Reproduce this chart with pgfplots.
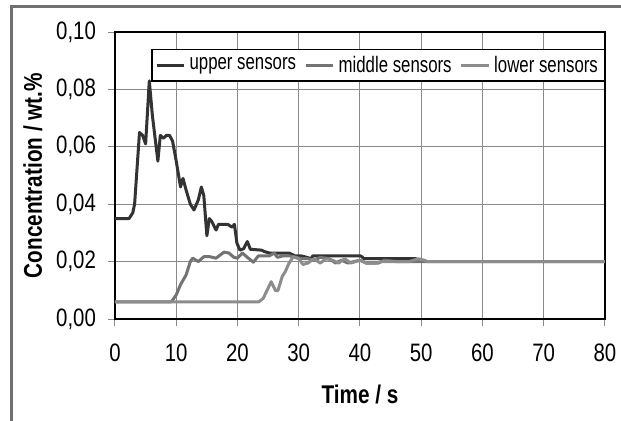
\documentclass[border=0pt]{standalone}
\usepackage{fontspec}
\setmainfont{Liberation Sans}[FakeStretch=0.81]
\newfontfamily\legendfont{Liberation Sans}[FakeStretch=0.75]
\usepackage{pgfplots}
\pgfplotsset{compat=1.18}

\definecolor{upperc}{HTML}{333333}
\definecolor{middlec}{HTML}{737373}
\definecolor{lowerc}{HTML}{8C8C8C}
\definecolor{gridc}{HTML}{8A8A8A}
\definecolor{framec}{HTML}{707070}

\begin{document}
\begin{tikzpicture}
% picture size in px (0.5pt each), axis sits at the origin
\useasboundingbox (-57.5pt,-50.5pt) rectangle (253pt,159.5pt);
\begin{axis}[
    at={(0,0)}, anchor=south west,
    scale only axis,
    width=245pt, height=143.5pt,
    xmin=0, xmax=80, ymin=0, ymax=0.1,
    xtick={0,10,...,80},
    ytick={0,0.02,...,0.1},
    xtick pos=bottom, ytick pos=left,
    tick align=outside,
    major tick length=3.5pt,
    major tick style={gridc, line width=0.5pt},
    grid=major,
    major grid style={gridc, line width=0.5pt},
    axis line style={black, line width=0.6pt},
    scaled y ticks=false,
    y tick label style={/pgf/number format/.cd, use comma, fixed, fixed zerofill, precision=2, assume math mode=true, /tikz/.cd},
    x tick label style={/pgf/number format/assume math mode=true},
    tick label style={font=\fontsize{12.6}{15}\selectfont},
    xticklabel style={yshift=-5.5pt},
    yticklabel style={xshift=-2.5pt},
    xlabel={\textbf{Time / s}},
    ylabel={\textbf{Concentration / wt.\%}},
    label style={font=\fontsize{12.8}{15}\selectfont},
    xlabel style={at={(axis description cs:0.5,-0.294)}, anchor=base},
    ylabel style={at={(axis description cs:-0.149,0.5)}, anchor=base},
    legend style={at={(rel axis cs:1.001,0.94)}, anchor=north east,
        draw=black, line width=0.6pt, font=\legendfont\fontsize{11.2}{13}\selectfont,
        inner xsep=1.5pt, inner ysep=1pt, legend columns=-1,
        /tikz/every even column/.append style={column sep=2pt}},
    legend image code/.code={\draw[#1, line width=1.5pt] (0pt,0pt) -- (13.8pt,0pt);},
    every axis plot/.append style={line width=1.5pt, line join=round},
]
\addplot[upperc] coordinates {
(0,0.035) (2.3,0.035) (2.9,0.037) (3.2,0.040) (4.0,0.065) (4.5,0.064) (5.0,0.061)
(5.6,0.083) (6.1,0.071) (7.0,0.055) (7.4,0.064) (7.9,0.063) (8.4,0.064) (8.9,0.064)
(9.4,0.062) (10.0,0.055) (10.7,0.046) (11.1,0.049) (11.6,0.045) (12.3,0.040) (12.9,0.038)
(13.6,0.0415) (14.1,0.046) (14.5,0.043) (15.0,0.029) (15.4,0.035) (15.8,0.034) (16.5,0.031)
(16.9,0.033) (18.4,0.033) (19.1,0.032) (19.5,0.033) (19.9,0.0265) (20.4,0.024) (21.0,0.0245)
(21.6,0.027) (22.1,0.0243) (23.9,0.024) (24.4,0.0235) (25.2,0.023) (28.4,0.023) (29.4,0.022)
(30.4,0.022) (31.3,0.0215) (32.0,0.021) (32.3,0.022) (40.1,0.022) (40.7,0.021) (49.1,0.021)
(49.5,0.0205)
};
\addplot[middlec] coordinates {
(0,0.006) (9.2,0.006) (10,0.0084) (10.7,0.012) (11.6,0.0153) (12.3,0.020) (12.7,0.0212)
(13.6,0.020) (14.5,0.0217) (15.5,0.0217) (16.5,0.0212) (17.8,0.0233) (18.6,0.023)
(19.4,0.0215) (20,0.0212) (20.8,0.023) (21.6,0.0215) (22.6,0.0198) (23.4,0.022) (25.2,0.022)
(26.0,0.023) (26.5,0.0215) (27.5,0.022) (28.5,0.022) (29.5,0.0215) (30.5,0.021) (31.5,0.021)
(32.5,0.0205) (33.5,0.0215) (35,0.021) (36,0.0195) (37,0.0205) (38,0.0195) (39,0.020)
(40,0.0205) (41,0.0195) (43,0.0195) (44,0.0205) (46,0.020) (50,0.020) (80,0.020)
};
\addplot[lowerc] coordinates {
(0,0.006) (23.5,0.006) (24.2,0.0072) (25.5,0.013) (26.2,0.0099) (26.6,0.0099) (27.3,0.0148)
(27.8,0.0165) (28.4,0.0194) (29.1,0.0217) (30,0.021) (30.7,0.019) (31.5,0.0195) (32.5,0.021)
(33.5,0.0195) (34.5,0.021) (35.5,0.0205) (36.5,0.0195) (37.5,0.021) (38.5,0.0195) (40,0.0205)
(41,0.0195) (42.5,0.0195) (43.5,0.020) (48,0.020) (49.5,0.021) (50.5,0.0205) (51,0.020)
(80,0.020)
};
\legend{upper sensors, middle sensors, lower sensors}
\end{axis}
\draw[framec, line width=1.5pt] (-51.6pt,-60pt) -- (-51.6pt,156.5pt) -- (260pt,156.5pt);
\end{tikzpicture}
\end{document}
